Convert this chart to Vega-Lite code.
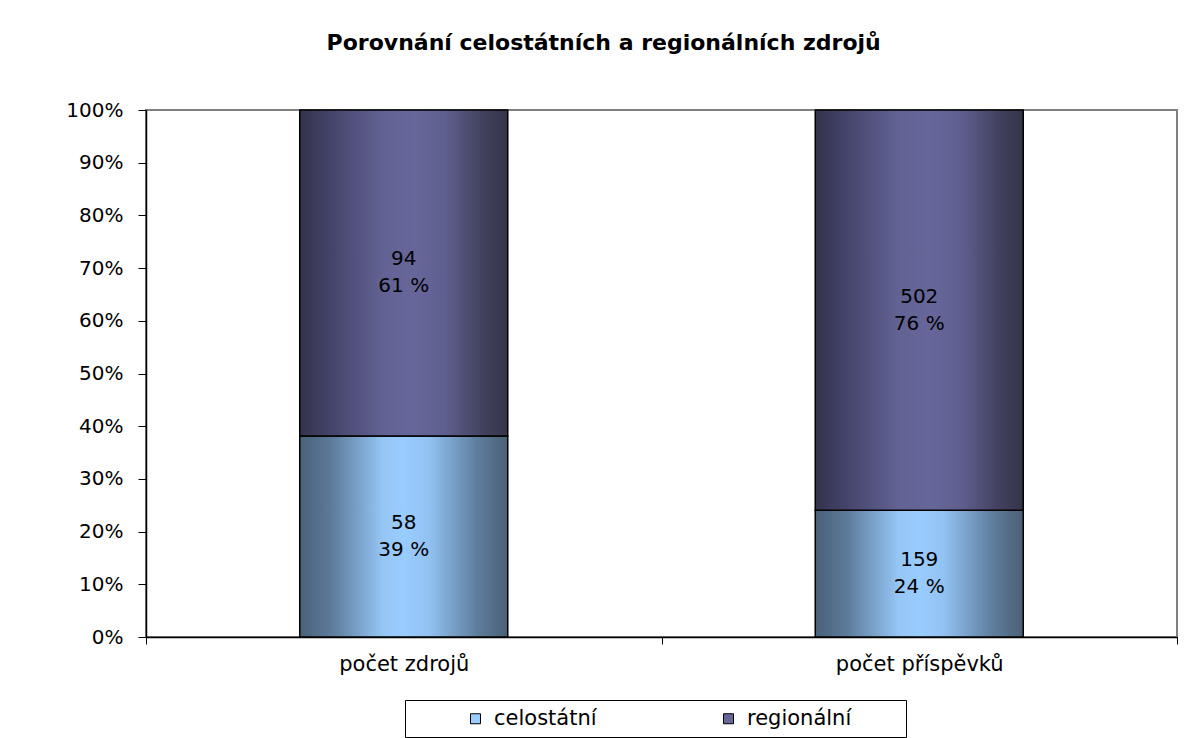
{
  "$schema": "https://vega.github.io/schema/vega-lite/v6.json",
  "width": 1031,
  "height": 527,
  "autosize": {"type": "none"},
  "padding": {"left": 146, "top": 110, "right": 7, "bottom": 101},
  "background": "white",
  "config": {
    "font": "DejaVu Sans",
    "view": {"stroke": "#808080", "strokeWidth": 2}
  },
  "title": {
    "text": "Porovnání celostátních a regionálních zdrojů",
    "font": "DejaVu Sans",
    "fontSize": 22,
    "fontWeight": "bold",
    "color": "black",
    "anchor": "middle",
    "frame": "bounds",
    "dx": -18,
    "offset": 45
  },
  "data": {
    "values": [
      {"category": "počet zdrojů", "series": "celostátní", "order": 1, "value": 58, "label": "58\n39 %"},
      {"category": "počet zdrojů", "series": "regionální", "order": 2, "value": 94, "label": "94\n61 %"},
      {"category": "počet příspěvků", "series": "celostátní", "order": 1, "value": 159, "label": "159\n24 %"},
      {"category": "počet příspěvků", "series": "regionální", "order": 2, "value": 502, "label": "502\n76 %"}
    ]
  },
  "transform": [
    {"stack": "value", "groupby": ["category"], "sort": [{"field": "order"}], "offset": "normalize", "as": ["y0", "y1"]}
  ],
  "encoding": {
    "x": {
      "field": "category",
      "type": "nominal",
      "sort": ["počet zdrojů", "počet příspěvků"],
      "scale": {"paddingInner": 0, "paddingOuter": 0},
      "axis": {
        "title": null,
        "labelAngle": 0,
        "labelFontSize": 21,
        "labelColor": "black",
        "labelPadding": 9,
        "tickBand": "extent",
        "tickSize": 7,
        "tickColor": "black",
        "domainColor": "black",
        "domainWidth": 1.5
      }
    }
  },
  "layer": [
    {
      "mark": {"type": "bar", "stroke": "black", "strokeWidth": 1.5, "width": {"band": 0.4035}},
      "encoding": {
        "y": {
          "field": "y0",
          "type": "quantitative",
          "scale": {"domain": [0, 1], "nice": false},
          "axis": {
            "title": null,
            "format": ".0%",
            "values": [0, 0.1, 0.2, 0.3, 0.4, 0.5, 0.6, 0.7, 0.8, 0.9, 1],
            "grid": false,
            "labelFontSize": 20,
            "labelColor": "black",
            "labelPadding": 15,
            "tickSize": 8,
            "tickColor": "black",
            "domainColor": "black",
            "domainWidth": 1.5
          }
        },
        "y2": {"field": "y1"},
        "fill": {
          "condition": {
            "test": "datum.series === 'celostátní'",
            "value": {
              "gradient": "linear", "x1": 0, "x2": 1, "y1": 0, "y2": 0,
              "stops": [
                {"offset": 0, "color": "#4a6178"},
                {"offset": 0.15, "color": "#5c7a99"},
                {"offset": 0.4, "color": "#95c6f5"},
                {"offset": 0.5, "color": "#99ccff"},
                {"offset": 0.62, "color": "#92c2f2"},
                {"offset": 0.85, "color": "#5f7e9e"},
                {"offset": 1, "color": "#4a6076"}
              ]
            }
          },
          "value": {
            "gradient": "linear", "x1": 0, "x2": 1, "y1": 0, "y2": 0,
            "stops": [
              {"offset": 0, "color": "#33334d"},
              {"offset": 0.15, "color": "#44446a"},
              {"offset": 0.4, "color": "#626294"},
              {"offset": 0.55, "color": "#66669a"},
              {"offset": 0.7, "color": "#5f5f8f"},
              {"offset": 0.88, "color": "#42425f"},
              {"offset": 1, "color": "#333349"}
            ]
          }
        }
      }
    },
    {
      "mark": {"type": "bar", "opacity": 0, "width": {"band": 0.4035}},
      "encoding": {
        "y": {"field": "y0", "type": "quantitative"},
        "y2": {"field": "y1"},
        "color": {
          "field": "series",
          "type": "nominal",
          "scale": {"domain": ["celostátní", "regionální"], "range": ["#99ccff", "#666699"]},
          "legend": {
            "title": null,
            "orient": "none",
            "legendX": 259,
            "legendY": 590,
            "direction": "horizontal",
            "columns": 2,
            "symbolType": "square",
            "symbolSize": 100,
            "symbolOpacity": 1,
            "symbolStrokeColor": "black",
            "symbolStrokeWidth": 1,
            "symbolOffset": 52,
            "labelFontSize": 21,
            "labelColor": "black",
            "labelOffset": 8,
            "labelLimit": 300,
            "labelExpr": "datum.index > 0 ? datum.label + '\u2800\u2800\u2800' : datum.label",
            "columnPadding": 69,
            "padding": 8,
            "strokeColor": "black",
            "fillColor": "white"
          }
        }
      }
    },
    {
      "transform": [
        {"fold": ["y0", "y1"], "as": ["edge", "pos"]},
        {"aggregate": [{"op": "mean", "field": "pos", "as": "ymid"}], "groupby": ["category", "series", "label"]}
      ],
      "mark": {"type": "text", "fontSize": 20, "color": "black", "lineBreak": "\n", "lineHeight": 27, "baseline": "middle", "dy": -13.5},
      "encoding": {
        "y": {"field": "ymid", "type": "quantitative"},
        "text": {"field": "label", "type": "nominal"}
      }
    }
  ]
}
